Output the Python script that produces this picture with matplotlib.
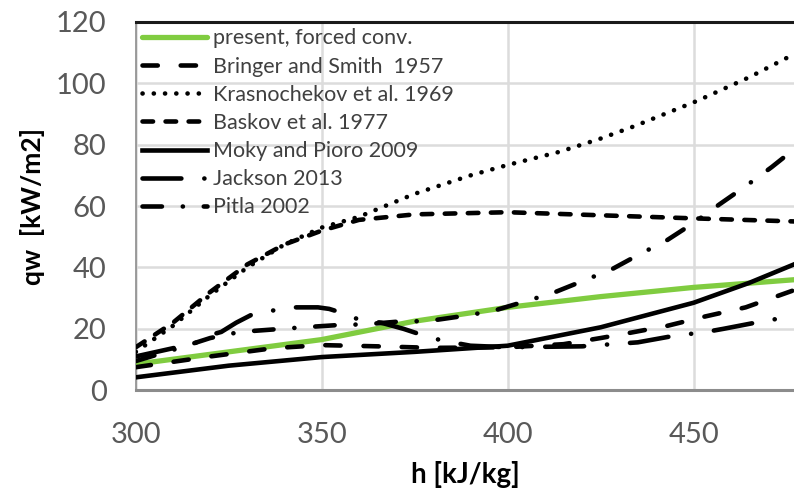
import matplotlib
matplotlib.use('Agg')
import matplotlib.pyplot as plt

# data (h in kJ/kg, qw in kW/m2)
h_present = [300, 325, 350, 375, 400, 425, 450, 477]
q_present = [8.5, 12.5, 16.5, 22.5, 27, 30.5, 33.5, 36]

h_bringer = [300, 320, 337, 350, 365, 380, 400, 415, 425, 432, 443, 453, 464, 477]
q_bringer = [7.5, 11, 13.7, 14.7, 14.3, 13.8, 14, 15, 17, 18.5, 21, 24, 27, 32.6]

h_kras = [300, 310, 320, 330, 340, 350, 360, 375, 390, 400, 414, 425, 434, 451, 465, 477]
q_kras = [12.5, 21, 31, 40, 47.5, 53, 56.5, 64, 70, 73.4, 77.7, 82, 86, 94.3, 102, 109.5]

h_baskov = [300, 310, 320, 330, 340, 350, 360, 375, 400, 425, 450, 477]
q_baskov = [14, 22, 32, 41, 47.5, 52, 55.5, 57.3, 58, 57, 56, 55]

h_moky = [300, 325, 350, 375, 400, 425, 450, 465, 477]
q_moky = [4.2, 8, 10.8, 12.5, 14.5, 20.5, 28.5, 35, 41]

h_jackson = [300, 316, 318, 323, 327, 331, 337, 343, 349, 352, 356, 360, 366, 372, 377,
             382, 390, 400, 420, 435, 446, 452, 458, 470, 477]
q_jackson = [11, 15.3, 17.3, 19, 22, 24.5, 26, 27, 27, 26.5, 25, 23, 22, 20, 18,
             16.3, 14.5, 14, 14.3, 15.6, 18, 18.7, 20, 22.8, 24]

h_pitla = [300, 311, 320, 328, 337, 345, 354, 362, 370, 379, 387, 396, 404, 412, 420,
           428, 435, 443, 450, 457, 464, 471, 477]
q_pitla = [9.5, 13.5, 17, 19, 19.8, 20.5, 21.2, 21.5, 22.3, 22.6, 24, 25.8, 28.7, 31.6, 35.5,
           39.4, 44, 49, 54.5, 60.6, 66.5, 72.7, 78.5]

labels = ['present, forced conv.', 'Bringer and Smith  1957', 'Krasnochekov et al. 1969',
          'Baskov et al. 1977', 'Moky and Pioro 2009', 'Jackson 2013', 'Pitla 2002']

plt.rcParams['font.family'] = ['Lato', 'DejaVu Sans']
plt.rcParams['lines.scale_dashes'] = False

fig = plt.figure(figsize=(7.94, 4.99), dpi=100)
ax = fig.add_axes([0.171, 0.218, 0.829, 0.738])

lw = 3.3
series = [
    (h_present, q_present, dict(color='#80cc40', lw=3.8, solid_capstyle='round')),
    (h_bringer, q_bringer, dict(color='black', lw=lw, dashes=(11, 16.5))),
    (h_kras, q_kras, dict(color='black', lw=lw, dashes=(0.1, 8))),
    (h_baskov, q_baskov, dict(color='black', lw=lw, dashes=(7.6, 9))),
    (h_moky, q_moky, dict(color='black', lw=lw)),
    (h_jackson, q_jackson, dict(color='black', lw=lw, dashes=(28, 16.5, 0.1, 16.5))),
    (h_pitla, q_pitla, dict(color='black', lw=lw, dashes=(14, 15, 0.1, 15))),
]
for (x, y, st), lab in zip(series, labels):
    ax.plot(x, y, label=lab, dash_capstyle='round', zorder=3, **st)

ax.set_xlim(300, 477)
ax.set_ylim(0, 120)
ax.set_xticks([300, 350, 400, 450])
ax.set_yticks(range(0, 121, 20))

ax.grid(True, color='#dcdcdc', lw=1.8, zorder=0)
ax.tick_params(length=0, labelsize=21, labelcolor='#595959')
ax.tick_params(axis='x', pad=23)
ax.tick_params(axis='y', pad=21)

ax.spines['right'].set_visible(False)
ax.spines['top'].set_color('#1a1a1a')
ax.spines['top'].set_linewidth(2.2)
ax.spines['left'].set_color('#8c8c8c')
ax.spines['left'].set_linewidth(1.2)
ax.spines['bottom'].set_color('#8c8c8c')
ax.spines['bottom'].set_linewidth(2.2)

ax.set_xlabel('h [kJ/kg]', fontsize=20, fontweight='bold', labelpad=9)
ax.set_ylabel('qw  [kW/m2]', fontsize=19, fontweight='bold', labelpad=8)

leg = ax.legend(loc='upper left', bbox_to_anchor=(0.0, 1.0), frameon=False, fontsize=15.5,
                handlelength=3.0, handletextpad=0.3, labelspacing=0.38,
                borderaxespad=0.0, borderpad=0.3)
for t in leg.get_texts():
    t.set_color('#404040')

fig.savefig('out.png', dpi=100)
